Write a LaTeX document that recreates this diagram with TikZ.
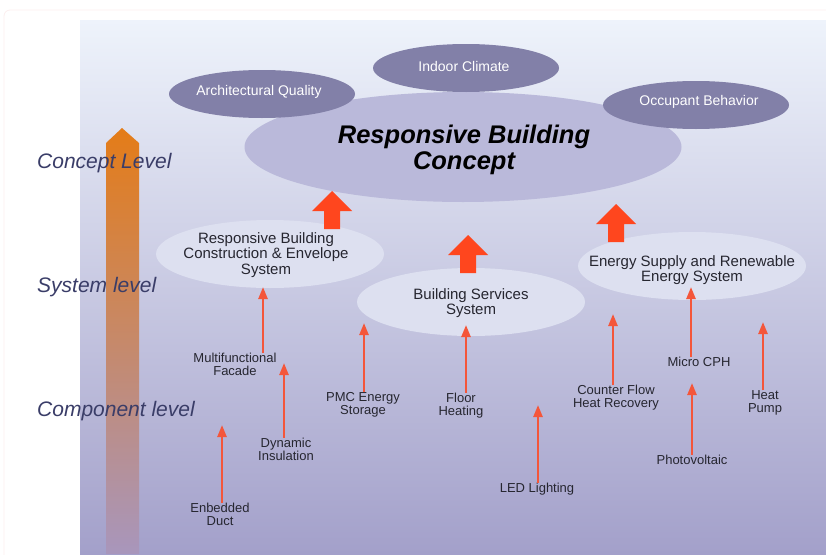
\documentclass[tikz,border=0pt]{standalone}
\usepackage{fontspec}
\setmainfont{Liberation Sans}
\usetikzlibrary{shapes.geometric,arrows.meta}
\definecolor{panelTop}{RGB}{238,243,251}
\definecolor{panelMid}{RGB}{201,202,229}
\definecolor{panelBottom}{RGB}{163,160,202}
\definecolor{frame}{RGB}{251,238,238}
\definecolor{levelInk}{RGB}{58,61,104}
\definecolor{climb}{RGB}{228,124,24}
\definecolor{climbFade}{RGB}{168,150,188}
\definecolor{aspect}{RGB}{130,128,168}
\definecolor{concept}{RGB}{186,185,218}
\definecolor{system}{RGB}{221,224,240}
\definecolor{lift}{RGB}{255,70,30}
\definecolor{feed}{RGB}{244,86,58}
\definecolor{ink}{RGB}{38,38,48}

\begin{document}
\begin{tikzpicture}[x=1pt, y=-1pt, text=ink,
  level/.style={anchor=west, inner sep=0, text=levelInk, font=\fontsize{21}{24}\selectfont\itshape},
  aspectblob/.style={ellipse, fill=aspect, minimum width=186, minimum height=48, inner sep=0},
  aspecttext/.style={inner sep=0, text=white, font=\fontsize{14}{16}\selectfont},
  conceptblob/.style={ellipse, fill=concept, minimum width=437, minimum height=110, inner sep=0},
  concepttext/.style={align=center, inner sep=0, text=black, font=\fontsize{25.5}{26}\selectfont\bfseries\itshape},
  systemblob/.style={ellipse, fill=system, minimum width=228, minimum height=68, inner sep=0},
  systemtext/.style={align=center, inner sep=0, font=\fontsize{15}{15.5}\selectfont},
  part/.style={align=center, inner sep=0, font=\fontsize{13}{13}\selectfont},
  feedline/.style={draw=feed, line width=2.4, -{Triangle[length=12pt, width=9pt]}}]
  \useasboundingbox (0,0) rectangle (826,554);
  \draw[frame, line width=0.8, rounded corners=6] (4,560) -- (4,10) -- (830,10);
  \shade[top color=panelTop, middle color=panelMid, bottom color=panelBottom] (80,20) rectangle (826,554);
  \shade[top color=climb, bottom color=climbFade] (106,554) -- (106,143) -- (122,128) -- (139,143) -- (139,554) -- cycle;
  \node[level] (concept-level) at (37,163) {Concept Level};
  \node[level] (system-level) at (37,287) {System level};
  \node[level] (component-level) at (37,411) {Component level};

  \node[conceptblob] (concept) at (463,147) {};
  \node[concepttext] (concept-text) at (464,150) {Responsive Building\\Concept};
  \node[aspectblob] (quality) at (262,94) {};
  \node[aspecttext] (quality-text) at (259,92) {Architectural Quality};
  \node[aspectblob] (climate) at (466,68) {};
  \node[aspecttext] (climate-text) at (464,66) {Indoor Climate};
  \node[aspectblob] (behavior) at (696,105) {};
  \node[aspecttext] (behavior-text) at (699,102) {Occupant Behavior};

  \node[systemblob] (envelope) at (270,254) {};
  \node[systemtext] (envelope-text) at (266,255) {Responsive Building\\Construction \& Envelope\\System};
  \node[systemblob] (services) at (471,302) {};
  \node[systemtext] (services-text) at (471,303) {Building Services\\System};
  \node[systemblob] (supply) at (692,266) {};
  \node[systemtext] (supply-text) at (692,270) {Energy Supply and Renewable\\Energy System};

  \foreach \tx/\ty in {332/191, 468/235, 616/204} {
    \fill[lift] (\tx,\ty) -- ++(20,20) -- ++(-12,0) -- ++(0,18) -- ++(-16,0) -- ++(0,-18) -- ++(-12,0) -- cycle;
  }

  \node[part] (facade) at (235,364.5) {Multifunctional\\Facade};
  \node[part] (insulation) at (286,449) {Dynamic\\Insulation};
  \node[part] (duct) at (220,514) {Enbedded\\Duct};
  \node[part] (pmc) at (363,404.5) {PMC Energy\\Storage};
  \node[part] (floor) at (461,405.5) {Floor\\Heating};
  \node[part] (led) at (537,489) {LED Lighting};
  \node[part] (counterflow) at (616,398) {Counter Flow\\Heat Recovery};
  \node[part] (microchp) at (699,362) {Micro CPH};
  \node[part] (pv) at (692,460) {Photovoltaic};
  \node[part] (heatpump) at (765,403) {Heat\\Pump};

  \coordinate (facade-in) at (263,287);
  \coordinate (insulation-in) at (284,363);
  \coordinate (duct-in) at (222,425);
  \coordinate (pmc-in) at (364,323);
  \coordinate (floor-in) at (466,325);
  \coordinate (led-in) at (538,405);
  \coordinate (counterflow-in) at (613,314);
  \coordinate (microchp-in) at (691,287);
  \coordinate (pv-in) at (692,383);
  \coordinate (heatpump-in) at (763,322);
  \foreach \part in {facade, insulation, duct, pmc, floor, led, counterflow, microchp, pv, heatpump} {
    \draw[feedline] (\part-in |- \part.north) -- (\part-in);
  }
\end{tikzpicture}
\end{document}
